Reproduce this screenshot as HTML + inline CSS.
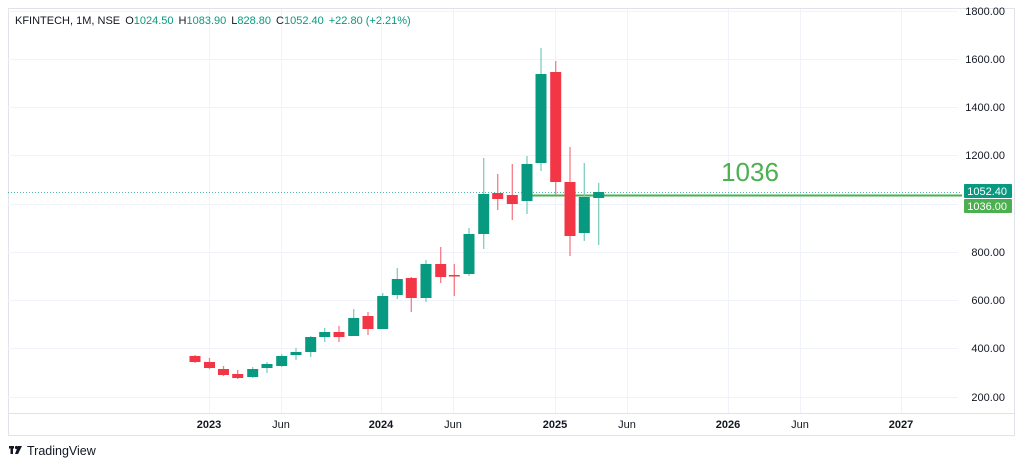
<!DOCTYPE html>
<html><head><meta charset="utf-8"><style>
html,body{margin:0;padding:0;background:#fff;width:1024px;height:466px;overflow:hidden}
svg{display:block;font-family:"Liberation Sans",sans-serif}
</style></head><body>
<svg width="1024" height="466" viewBox="0 0 1024 466">
<rect x="8.5" y="8.5" width="1006" height="427" fill="#fff" stroke="#e0e3eb"/>
<line x1="8" y1="413.5" x2="1015" y2="413.5" stroke="#e0e3eb"/>
<g stroke="#f0f3fa" stroke-width="1">
<line x1="8" y1="11.5" x2="958" y2="11.5"/>
<line x1="8" y1="59.5" x2="958" y2="59.5"/>
<line x1="8" y1="107.5" x2="958" y2="107.5"/>
<line x1="8" y1="155.5" x2="958" y2="155.5"/>
<line x1="8" y1="204.5" x2="958" y2="204.5"/>
<line x1="8" y1="252.5" x2="958" y2="252.5"/>
<line x1="8" y1="300.5" x2="958" y2="300.5"/>
<line x1="8" y1="348.5" x2="958" y2="348.5"/>
<line x1="8" y1="397.5" x2="958" y2="397.5"/>
<line x1="209.5" y1="9" x2="209.5" y2="413"/>
<line x1="281.5" y1="9" x2="281.5" y2="413"/>
<line x1="381.5" y1="9" x2="381.5" y2="413"/>
<line x1="453.5" y1="9" x2="453.5" y2="413"/>
<line x1="555.5" y1="9" x2="555.5" y2="413"/>
<line x1="627.5" y1="9" x2="627.5" y2="413"/>
<line x1="728.5" y1="9" x2="728.5" y2="413"/>
<line x1="800.5" y1="9" x2="800.5" y2="413"/>
<line x1="901.5" y1="9" x2="901.5" y2="413"/>
</g>
<line x1="8" y1="192.5" x2="962" y2="192.5" stroke="#089981" stroke-dasharray="1,2" opacity="0.7"/>
<line x1="532" y1="195.5" x2="962" y2="195.5" stroke="#4caf50" stroke-width="2"/>
<text x="750" y="181" font-size="26" fill="#4caf50" text-anchor="middle">1036</text>
<g id="c"></g>
<g font-size="11" fill="#131722" text-anchor="end">
<text x="1005" y="15">1800.00</text>
<text x="1005" y="63">1600.00</text>
<text x="1005" y="111">1400.00</text>
<text x="1005" y="159">1200.00</text>
<text x="1005" y="256">800.00</text>
<text x="1005" y="304">600.00</text>
<text x="1005" y="352">400.00</text>
<text x="1005" y="401">200.00</text>
</g>
<rect x="964" y="184" width="48" height="14" fill="#089981" rx="1"/>
<text x="1007" y="195" font-size="11" fill="#fff" text-anchor="end">1052.40</text>
<rect x="964" y="199" width="48" height="14" fill="#4caf50" rx="1"/>
<text x="1007" y="210" font-size="11" fill="#fff" text-anchor="end">1036.00</text>
<g font-size="11" fill="#131722" text-anchor="middle">
<text x="209" y="428" font-weight="bold">2023</text>
<text x="281" y="428">Jun</text>
<text x="381" y="428" font-weight="bold">2024</text>
<text x="453" y="428">Jun</text>
<text x="555" y="428" font-weight="bold">2025</text>
<text x="627" y="428">Jun</text>
<text x="728" y="428" font-weight="bold">2026</text>
<text x="800" y="428">Jun</text>
<text x="901" y="428" font-weight="bold">2027</text>
</g>
<text x="15" y="24" font-size="11" fill="#131722">KFINTECH, 1M, NSE <tspan dx="2">O</tspan><tspan fill="#089981">1024.50</tspan><tspan dx="5">H</tspan><tspan fill="#089981">1083.90</tspan><tspan dx="5">L</tspan><tspan fill="#089981">828.80</tspan><tspan dx="5">C</tspan><tspan fill="#089981">1052.40</tspan><tspan dx="5" fill="#089981">+22.80 (+2.21%)</tspan></text>
<g fill="#131722"><rect x="9" y="446" width="5" height="2.5"/><rect x="10.5" y="446" width="2.5" height="8"/><circle cx="16.5" cy="447.5" r="1.6"/><path d="M18 446h4l-4 8h-3z"/></g>
<text x="27" y="455" font-size="12.5" fill="#131722">TradingView</text>
</svg>
<script>
var d=[
[195,356,362,355,363,0],[209.5,362,368,358,369,0],[223.5,369,375,366,376,0],[237.7,374,378,370,379,0],
[252.7,369,377,367,378,1],[267,364,368,362,373,1],[281.7,356,366,354,367,1],[296,352,355,348,360,1],
[310.7,337,352,336,357,1],[324.7,332,337,328,342,1],[339,332,337,326,342,0],[353.7,318,336,309,336,1],
[368,316,329,312,335,0],[382.7,296,329,293,329,1],[397.3,279,295,268,299,1],[411.3,278,298,277,312,0],
[426,264,298,260,302,1],[440.7,264,277,247,283,0],[454.3,275,276.5,264,296,0],[469,234,274,228,276,1],
[483.7,194,234,158,249,1],[497.7,193,199,174,210,0],[512.3,195,204,164,220,0],[527,164,201,156,214,1],
[541,74,163,48,171,1],[555.7,72,182,61,195,0],[570,182,236,147,256,0],[584.3,197,233,163,241,1],[598.7,192,198,183,245,1]];
var g=document.getElementById('c'),s='';
d.forEach(function(c){var col=c[5]?'#089981':'#f23645',wc=c[5]?'#7fcdbf':'#f77c87';
s+='<line x1="'+c[0]+'" x2="'+c[0]+'" y1="'+c[3]+'" y2="'+c[4]+'" stroke="'+wc+'" stroke-width="1.3"/>';
s+='<rect x="'+(c[0]-5.5)+'" y="'+c[1]+'" width="11" height="'+Math.max(1.5,c[2]-c[1])+'" fill="'+col+'"/>';});
g.innerHTML=s;
</script>
</body></html>
